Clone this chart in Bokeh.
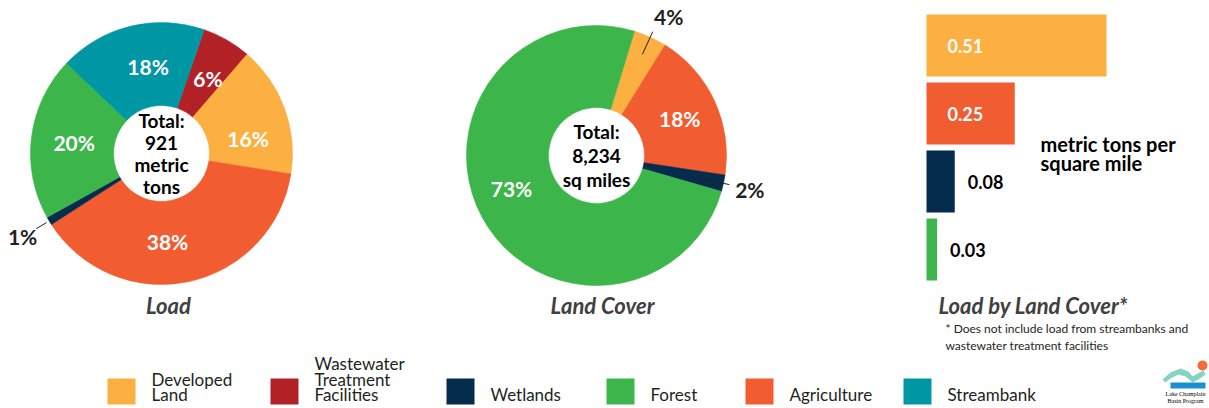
import numpy as np
from bokeh.plotting import figure
from bokeh.layouts import row, column
from bokeh.models import Range1d, ColumnDataSource
from bokeh.core.properties import value
from bokeh.embed import file_html
from bokeh.resources import INLINE

# ---------------- data ----------------
legend_categories = ["Developed Land", "Wastewater Treatment Facilities", "Wetlands",
                     "Forest", "Agriculture", "Streambank"]
legend_labels = ["Developed\nLand", "Wastewater\nTreatment\nFacilities", "Wetlands",
                 "Forest", "Agriculture", "Streambank"]
category_colors = ["#FBB041", "#B22126", "#052B4D", "#3CB54A", "#F15D30", "#0097A5"]

load_categories = ["Wastewater Treatment Facilities", "Developed Land", "Agriculture",
                   "Wetlands", "Forest", "Streambank"]
load_percent = [6, 16, 38, 1, 20, 18]
load_total = "Total:\n921\nmetric\ntons"
load_title = "Load"

land_categories = ["Developed Land", "Agriculture", "Wetlands", "Forest"]
land_percent = [4, 18, 2, 73]
land_total = "Total:\n8,234\nsq miles"
land_title = "Land Cover"

rate_categories = ["Developed Land", "Agriculture", "Wetlands", "Forest"]
rate_values = [0.51, 0.25, 0.08, 0.03]
rate_labels = ["0.51", "0.25", "0.08", "0.03"]
rate_unit = "metric tons per\nsquare mile"
rate_title = "Load by Land Cover*"
rate_note = "* Does not include load from streambanks and\nwastewater treatment facilities"

logo_text = "Lake Champlain\nBasin Program"

# ---------------- style / layout ----------------
color_of = dict(zip(legend_categories, category_colors))
FONT = "Lato"
DARK = "#231F20"
TITLE_C = "#404040"
TOP_H = 352
R_IN = 48


def iy(img_y):
    """page pixel row -> y inside the top row panels"""
    return TOP_H - img_y


def blank(w, h, xr=None, yr=None):
    p = figure(width=w, height=h,
               x_range=xr if xr is not None else Range1d(0, w),
               y_range=yr if yr is not None else Range1d(0, h),
               output_backend="svg", toolbar_location=None, min_border=0,
               x_axis_type=None, y_axis_type=None)
    p.grid.visible = False
    p.outline_line_color = None
    p.background_fill_color = "white"
    p.border_fill_color = "white"
    return p


def donut(width, cx, cy, r_out, cats, pct, start_deg, total, title, title_x,
          nudge, label_r, line_r, text_r, center_lh):
    p = blank(width, TOP_H)
    pct = np.asarray(pct, dtype=float)
    frac = pct / pct.sum()
    end_deg = start_deg + np.cumsum(frac) * 360.0
    beg_deg = end_deg - frac * 360.0
    src = ColumnDataSource(dict(start=np.radians(90 - beg_deg), end=np.radians(90 - end_deg),
                                color=[color_of[c] for c in cats], category=cats))
    p.annular_wedge(x=cx, y=cy, inner_radius=R_IN, outer_radius=r_out,
                    start_angle="start", end_angle="end", direction="clock",
                    fill_color="color", line_color="color", line_width=0.6, source=src)
    mid_deg = (beg_deg + end_deg) / 2.0
    inside = pct >= 5
    lab = [f"{int(v)}%" for v in pct]
    a = np.radians(mid_deg + np.asarray(nudge))
    # inside labels
    lx = cx + label_r * np.sin(a)
    ly = cy + label_r * np.cos(a)
    p.text(x=lx[inside], y=ly[inside], text=[t for t, k in zip(lab, inside) if k],
           text_color="white", text_font=value(FONT), text_font_style="bold",
           text_font_size="21px", text_align="center", text_baseline="middle")
    # outside labels with leader lines
    out = ~inside
    a0 = np.radians(mid_deg[out])
    xs = [[cx + line_r[0] * np.sin(t), cx + line_r[1] * np.sin(t)] for t in a0]
    ys = [[cy + line_r[0] * np.cos(t), cy + line_r[1] * np.cos(t)] for t in a0]
    p.multi_line(xs=xs, ys=ys, line_color=DARK, line_width=1)
    p.text(x=cx + text_r * np.sin(a[out]), y=cy + text_r * np.cos(a[out]),
           text=[t for t, k in zip(lab, out) if k],
           text_color=DARK, text_font=value(FONT), text_font_style="bold",
           text_font_size="21px", text_align="center", text_baseline="middle")
    # center total
    p.text(x=[cx], y=[cy], text=[total], text_color="black", text_font=value(FONT),
           text_font_style="bold", text_font_size="19px", text_align="center",
           text_baseline="middle", text_line_height=center_lh)
    # title
    p.text(x=[title_x], y=[iy(305)], text=[title], text_color=TITLE_C, text_font=value(FONT),
           text_font_style="bold italic", text_font_size="22px", text_align="center",
           text_baseline="middle")
    return p


load_fig = donut(380, 161, iy(153), 131, load_categories, load_percent, 19.0, load_total,
                 load_title, 168, [2, 10, 8, 0, 0, 5], 88, (134, 146), 162, 0.95)
land_fig = donut(520, 216, iy(155), 130, land_categories, land_percent, 17.0, land_total,
                 land_title, 222, [3, 1, 0, 7.5], 91, (111, 136), 157, 1.05)

# ---------------- bar panel ----------------
PX_PER_UNIT = 353.0
BAR_X0 = 26.0
BW = 309
bar_fig = blank(BW, TOP_H,
                xr=Range1d(-BAR_X0 / PX_PER_UNIT, (BW - BAR_X0) / PX_PER_UNIT))


def px2x(px):
    return (px - BAR_X0) / PX_PER_UNIT


vals = np.asarray(rate_values)
bar_y = iy(45) - 68 * np.arange(len(vals))
bar_fig.hbar(y=bar_y, left=0, right=vals, height=62,
             fill_color=[color_of[c] for c in rate_categories], line_color=None)
big = vals >= 0.2
bar_fig.text(x=np.zeros(big.sum()), y=bar_y[big], text=[t for t, k in zip(rate_labels, big) if k],
             x_offset=21, text_color="white", text_font=value(FONT), text_font_style="bold",
             text_font_size="18px", text_align="left", text_baseline="middle")
bar_fig.text(x=vals[~big], y=bar_y[~big], text=[t for t, k in zip(rate_labels, ~big) if k],
             x_offset=13, text_color="black", text_font=value(FONT), text_font_style="bold",
             text_font_size="18px", text_align="left", text_baseline="middle")
unit_lines = rate_unit.split("\n")
bar_fig.text(x=[px2x(140)] * len(unit_lines), y=iy(143) - 19 * np.arange(len(unit_lines)),
             text=unit_lines, text_color="black", text_font=value(FONT), text_font_style="bold",
             text_font_size="20px", text_align="left", text_baseline="middle")
bar_fig.text(x=[px2x(38)], y=[iy(305)], text=[rate_title], text_color=TITLE_C, text_font=value(FONT),
             text_font_style="bold italic", text_font_size="22px", text_align="left",
             text_baseline="middle")
note_lines = rate_note.split("\n")
bar_fig.text(x=[px2x(45)] * len(note_lines), y=iy(328) - 17 * np.arange(len(note_lines)),
             text=note_lines, text_color=DARK, text_font=value(FONT),
             text_font_size="12px", text_align="left", text_baseline="middle")

# ---------------- legend panel ----------------
LEG_W, LEG_H = 1209, 408 - TOP_H
leg = blank(LEG_W, LEG_H)
sw_left = np.array([107, 270, 446, 606, 745, 903])
leg.quad(left=sw_left, right=sw_left + 28, top=30, bottom=4,
         fill_color=category_colors, line_color=None)
tx, ty, tt = [], [], []
for x0, lab in zip(sw_left, legend_labels):
    lines = lab.split("\n")
    n = len(lines)
    y_last = 14
    for k, line in enumerate(lines):
        tx.append(x0 + 44)
        ty.append(y_last + 15.5 * (n - 1 - k))
        tt.append(line)
leg.text(x=tx, y=ty, text=tt, text_color=DARK, text_font=value(FONT),
         text_font_size="17px", text_align="left", text_baseline="middle")

# logo (approximate)
sw_x = [1162, 1170, 1180, 1188, 1192, 1197, 1203, 1205, 1198, 1192, 1185, 1178, 1170, 1165]
sw_y = [29, 36, 40, 37, 32, 35, 38, 34, 29, 26, 32, 34, 30, 26]
leg.patch(x=sw_x, y=sw_y, fill_color="#86D3C3", line_color=None)
leg.scatter(x=[1202], y=[43], size=10, fill_color="#F26B3A", line_color=None)
leg.quad(left=[1170], right=[1205], top=[26], bottom=[20], fill_color="#1B8FD2", line_color=None)
logo_lines = logo_text.split("\n")
leg.text(x=[1185] * len(logo_lines), y=15 - 7 * np.arange(len(logo_lines)), text=logo_lines,
         text_color="black", text_font=value("Liberation Serif"), text_font_size="6px",
         text_align="center", text_baseline="middle")

layout = column(row(load_fig, land_fig, bar_fig), leg)

open("out.html", "w").write(file_html(layout, INLINE))
